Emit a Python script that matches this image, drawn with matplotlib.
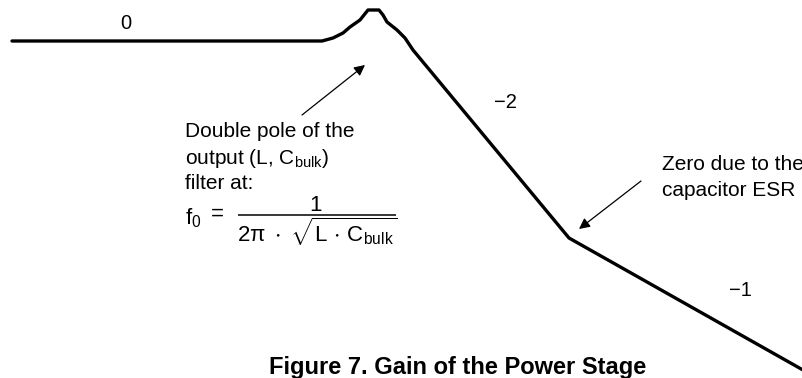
import matplotlib
matplotlib.use("Agg")
import matplotlib.pyplot as plt

plt.rcParams["font.family"] = ["Liberation Sans", "DejaVu Sans"]
plt.rcParams["mathtext.fontset"] = "custom"
plt.rcParams["mathtext.rm"] = "Liberation Sans"
plt.rcParams["mathtext.it"] = "Liberation Sans"
plt.rcParams["mathtext.bf"] = "Liberation Sans:bold"

W, H = 803, 378

# Asymptotic gain sketch: log-frequency position vs. gain (drawing units)
freq = [12, 322, 333, 343, 350, 360, 368, 379, 383, 387, 397, 405, 413, 569, 803]
gain = [337, 337, 340, 345, 351, 358, 368, 368, 363, 356, 348, 340, 328, 140, 8]

# Slope labels
slope_labels = ["0", "\u22122", "\u22121"]
slope_freq = [126, 505, 740]
slope_gain = [349, 270, 82]

fig = plt.figure(figsize=(W / 100, H / 100), dpi=100)
ax = fig.add_axes([0, 0, 1, 1])
ax.set_xlim(0, W)
ax.set_ylim(0, H)
ax.axis("off")

ax.plot(freq, gain, color="black", lw=2.4, solid_capstyle="round",
        solid_joinstyle="round")

for lab, x, y in zip(slope_labels, slope_freq, slope_gain):
    ax.text(x, y, lab, ha="center", va="baseline", fontsize=14.5)

# Double pole annotation
arrow = dict(arrowstyle="-|>", lw=0.9, color="black", mutation_scale=16,
             shrinkA=0, shrinkB=0)
ax.annotate("", xy=(365, H - 65), xytext=(302, H - 115), arrowprops=arrow)
txt = dict(ha="left", va="baseline", fontsize=15)
ax.text(185, H - 137, "Double pole of the", **txt)
ax.text(185, H - 164, r"output (L, C$_{\mathregular{bulk}}$)", **txt)
ax.text(185, H - 189, "filter at:", **txt)

# Resonant frequency formula
ax.text(185, H - 224, r"f$_{\mathregular{0}}$", ha="left", va="baseline",
        fontsize=16)
ax.text(211, H - 220, "=", ha="left", va="baseline", fontsize=16)
ax.plot([238, 396], [H - 215, H - 215], color="black", lw=1.1,
        solid_capstyle="butt")
ax.text(316, H - 211, "1", ha="center", va="baseline", fontsize=16)
ax.text(237, H - 242,
        r"$\mathregular{2\pi\ \cdot\ \sqrt{L\,\cdot\,C_{bulk}}}$",
        ha="left", va="baseline", fontsize=16)

# ESR zero annotation
ax.annotate("", xy=(579, H - 229), xytext=(641, H - 181), arrowprops=arrow)
ax.text(662, H - 170, "Zero due to the", **txt)
ax.text(662, H - 196, "capacitor ESR", **txt)

ax.text(458, H - 374, "Figure 7. Gain of the Power Stage", ha="center",
        va="baseline", fontsize=17, fontweight="bold")

fig.savefig("out.png", dpi=100)
